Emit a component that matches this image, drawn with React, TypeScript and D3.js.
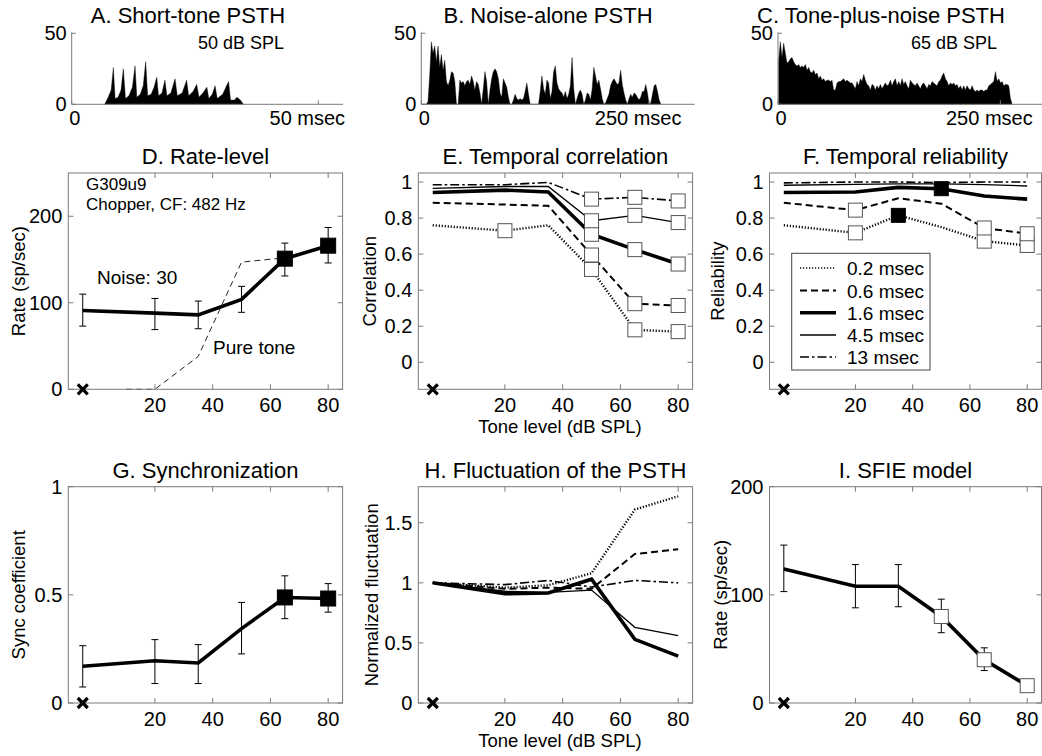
import React from 'react';
import * as d3 from 'd3';

const FONT = '"Liberation Sans", Arial, Helvetica, sans-serif';
const AXC = '#7a7a7a';

// ---------------- Data ----------------
// A. Short-tone PSTH (50 dB SPL): vertices (time in msec, count)
const psthATimes = [6.7, 7.4, 8.0, 8.45, 8.8, 9.4, 10.0, 10.47, 10.9, 11.6, 12.3, 12.84, 13.2, 13.9, 14.5, 15.0, 15.4, 16.1, 16.7, 17.24, 17.6, 18.3, 18.9, 19.3, 20.1, 20.95, 21.4, 22.4, 23.3, 23.7, 24.6, 25.35, 25.8, 26.6, 27.4, 27.8, 28.5, 29.07, 29.5, 30.6, 31.8, 32.2, 33.0, 33.5, 34.2, 34.8];
const psthAValues = [0, 5, 10, 26, 4, 5, 10, 25, 4, 6, 12, 27, 5, 7, 13, 30, 6, 7, 12, 19, 6, 8, 17, 6, 8, 18, 6, 8, 17, 6, 9, 14, 5, 8, 12, 4, 7, 13, 4, 7, 16, 3, 3, 5, 3, 0];

// B. Noise-alone PSTH: bins
const psthBStartMs = 0;
const psthBBinMs = 1.838;
const psthBValues = [
  0, 0, 0, 0, 2, 20, 44, 36, 41, 30,
  41, 26, 35, 24, 31, 16, 13, 17, 23, 22,
  16, 0, 0, 17, 15, 16, 13, 16, 17, 14,
  20, 16, 10, 16, 14, 8, 0, 11, 23, 16,
  0, 10, 18, 23, 25, 23, 18, 8, 5, 18,
  15, 12, 5, 0, 0, 3, 7, 4, 3, 4,
  3, 4, 9, 15, 7, 0, 0, 0, 0, 0,
  0, 9, 20, 11, 7, 17, 15, 4, 9, 23,
  27, 15, 11, 9, 8, 5, 9, 4, 7, 13,
  33, 11, 0, 4, 8, 10, 7, 0, 3, 8,
  7, 3, 11, 26, 20, 14, 17, 11, 4, 0,
  1, 4, 7, 13, 16, 18, 16, 14, 15, 24,
  14, 8, 3, 0, 4, 7, 5, 8, 7, 5,
  3, 5, 9, 9, 14, 8, 0, 1, 7, 13,
  14, 9, 3, 0,
];

// C. Tone-plus-noise PSTH (65 dB SPL): bins
const psthCStartMs = 0.75;
const psthCBinMs = 1.875;
const psthCValues = [
  30, 44, 33, 43, 36, 29, 30, 32, 33, 30,
  28, 27, 28, 26, 27, 26, 28, 24, 26, 23,
  22, 24, 21, 22, 18, 20, 17, 18, 16, 17,
  17, 16, 17, 10, 10, 15, 16, 16, 17, 18,
  16, 17, 16, 15, 15, 13, 11, 16, 13, 18,
  16, 21, 17, 14, 13, 10, 14, 13, 10, 13,
  11, 14, 11, 13, 15, 13, 14, 17, 13, 16,
  18, 13, 16, 13, 18, 14, 16, 13, 11, 17,
  15, 14, 13, 15, 13, 11, 14, 15, 13, 11,
  14, 13, 16, 15, 14, 13, 16, 17, 20, 22,
  18, 16, 13, 15, 14, 15, 13, 14, 11, 13,
  10, 13, 10, 13, 11, 10, 13, 10, 9, 10,
  9, 10, 10, 9, 10, 10, 13, 14, 15, 16,
  23, 16, 18, 15, 16, 13, 14, 14, 13, 4,
  0,
];

// Tone levels (dB SPL); -5 stands for the noise-alone condition
const toneLevels = [-5, 20, 35, 50, 65, 80];
const levelTicks = [20, 40, 60, 80];
const windowNames = ['0.2 msec', '0.6 msec', '1.6 msec', '4.5 msec', '13 msec'];

// D. Rate-level
const rateMean = [91, 88, 86, 104, 151, 166];
const rateHi = [110, 105, 102, 119, 169, 187];
const rateLo = [73, 69, 70, 89, 131, 146];
const rateMarks = ['', '', '', '', 'f', 'f'];
const pureToneLevels = [10, 20, 35, 50, 65];
const pureToneRate = [0, 0, 38, 147, 152];

// E. Temporal correlation
const corr02 = [0.76, 0.73, 0.76, 0.515, 0.18, 0.17];
const corr06 = [0.885, 0.875, 0.868, 0.595, 0.325, 0.315];
const corr16 = [0.942, 0.955, 0.945, 0.71, 0.625, 0.545];
const corr45 = [0.965, 0.975, 0.975, 0.785, 0.815, 0.775];
const corr13 = [0.985, 0.985, 0.998, 0.905, 0.915, 0.895];
const corrMarks02 = ['', 'o', '', 'o', 'o', 'o'];
const corrMarksOther = ['', '', '', 'o', 'o', 'o'];

// F. Temporal reliability
const rel02 = [0.76, 0.718, 0.815, 0.75, 0.672, 0.648];
const rel06 = [0.885, 0.844, 0.91, 0.88, 0.745, 0.713];
const rel16 = [0.942, 0.945, 0.97, 0.963, 0.922, 0.905];
const rel45 = [0.982, 0.987, 0.99, 0.99, 0.985, 0.978];
const rel13 = [0.995, 1.0, 1.0, 0.997, 1.0, 1.0];
const relMarks02 = ['', 'o', 'f', '', 'o', 'o'];
const relMarks06 = ['', 'o', '', '', 'o', 'o'];
const relMarks16 = ['', '', '', 'f', '', ''];
const relMarksNone = ['', '', '', '', '', ''];

// G. Synchronization
const syncMean = [0.17, 0.195, 0.185, 0.344, 0.488, 0.483];
const syncHi = [0.265, 0.293, 0.27, 0.465, 0.588, 0.552];
const syncLo = [0.074, 0.09, 0.09, 0.227, 0.39, 0.42];
const syncMarks = ['', '', '', '', 'f', 'f'];

// H. Fluctuation of the PSTH
const fluc02 = [1.0, 0.96, 0.98, 1.08, 1.61, 1.72];
const fluc06 = [1.0, 0.95, 0.96, 0.95, 1.24, 1.28];
const fluc16 = [1.0, 0.91, 0.915, 1.03, 0.53, 0.39];
const fluc45 = [1.0, 0.93, 0.92, 0.94, 0.63, 0.56];
const fluc13 = [1.0, 0.985, 1.02, 0.965, 1.02, 1.0];

// I. SFIE model
const sfieMean = [124, 108, 108, 80, 40, 16];
const sfieHi = [146, 128, 128, 96, 51, 20];
const sfieLo = [103, 88, 89, 65, 30, 12];
const sfieMarks = ['', '', '', 'o', 'o', 'o'];

// ---------------- Styles ----------------
const lineStyles = [
  { w: 2.4, dash: '1.2,1.8' },
  { w: 2, dash: '7,4' },
  { w: 3.6, dash: undefined as string | undefined },
  { w: 1.3, dash: undefined as string | undefined },
  { w: 1.6, dash: '9,3,2.5,3' },
];
const TITLE_FS = 22;
const TICK_FS = 20;
const LABEL_FS = 18.5;

type Sc = d3.ScaleLinear<number, number>;

function Psth(props: {
  left: number; width: number; xMax: number; pts: [number, number][];
  lastTick: number; lastLabel: string; title: string; titleX: number;
  note?: string; noteX?: number;
}) {
  const { left, width, xMax, pts, lastTick, lastLabel, title, titleX, note, noteX } = props;
  const x = d3.scaleLinear().domain([0, xMax]).range([left, left + width]);
  const y = d3.scaleLinear().domain([0, 50]).range([104.3, 33.3]);
  const area = d3.area<[number, number]>().x(d => x(d[0])).y0(y(0)).y1(d => y(d[1]));
  return (
    <g>
      <path d={area(pts) || ''} fill="#000" stroke="#000" strokeWidth={0.4} />
      <line x1={left} x2={left + width} y1={y(0)} y2={y(0)} stroke={AXC} />
      <line x1={left} x2={left} y1={y(0)} y2={y(50) - 1} stroke={AXC} />
      {[0, 50].map(t => (
        <g key={t}>
          <line x1={left} x2={left + 4} y1={y(t)} y2={y(t)} stroke={AXC} />
          <text x={left - 5} y={y(t) + 7} textAnchor="end" fontSize={TICK_FS}>{t}</text>
        </g>
      ))}
      {[0, lastTick].map(t => (
        <line key={t} x1={x(t)} x2={x(t)} y1={y(0)} y2={y(0) - 4} stroke={AXC} />
      ))}
      <text x={x(0) + 3} y={125} textAnchor="middle" fontSize={TICK_FS}>0</text>
      <text x={x(lastTick) - 11} y={125} textAnchor="middle" fontSize={TICK_FS}>{lastLabel}</text>
      <text x={titleX} y={22.5} textAnchor="middle" fontSize={TITLE_FS}>{title}</text>
      {note && <text x={noteX} y={49} textAnchor="middle" fontSize={18}>{note}</text>}
    </g>
  );
}

function LinePanel(props: {
  left: number; top: number; width: number; height: number;
  yDomain: [number, number]; yTicks: number[]; title: string;
  ylabel: string; ylabelX: number; xlabel?: string; xlabelX?: number;
  render: (x: Sc, y: Sc) => React.ReactNode;
}) {
  const { left, top, width, height, yDomain, yTicks, title, ylabel, ylabelX, xlabel, xlabelX, render } = props;
  const x = d3.scaleLinear().domain([-10, 85]).range([left, left + width]);
  const y = d3.scaleLinear().domain(yDomain).range([top + height, top]);
  const bottom = top + height;
  const right = left + width;
  const cy = top + height / 2;
  const xm = x(toneLevels[0]);
  const ym = y(yDomain[0]);
  return (
    <g>
      {render(x, y)}
      <rect x={left} y={top} width={width} height={height} fill="none" stroke={AXC} strokeWidth={1} />
      {levelTicks.map(t => (
        <g key={'x' + t}>
          <line x1={x(t)} x2={x(t)} y1={bottom} y2={bottom - 5} stroke={AXC} />
          <line x1={x(t)} x2={x(t)} y1={top} y2={top + 5} stroke={AXC} />
          <text x={x(t)} y={bottom + 23} textAnchor="middle" fontSize={TICK_FS}>{t}</text>
        </g>
      ))}
      {yTicks.map(t => (
        <g key={'y' + t}>
          <line x1={left} x2={left + 5} y1={y(t)} y2={y(t)} stroke={AXC} />
          <line x1={right} x2={right - 5} y1={y(t)} y2={y(t)} stroke={AXC} />
          <text x={left - 6} y={y(t) + 7} textAnchor="end" fontSize={TICK_FS}>{String(t)}</text>
        </g>
      ))}
      <text x={left + width / 2} y={top - 9} textAnchor="middle" fontSize={TITLE_FS}>{title}</text>
      <text transform={`translate(${ylabelX},${cy}) rotate(-90)`} textAnchor="middle" dy="0.35em" fontSize={LABEL_FS}>{ylabel}</text>
      {xlabel && <text x={xlabelX} y={bottom + 44} textAnchor="middle" fontSize={LABEL_FS}>{xlabel}</text>}
      <g stroke="#000" strokeWidth={3.2}>
        <line x1={xm - 5} x2={xm + 5} y1={ym - 5} y2={ym + 5} />
        <line x1={xm - 5} x2={xm + 5} y1={ym + 5} y2={ym - 5} />
      </g>
    </g>
  );
}

function seriesPath(x: Sc, y: Sc, xs: number[], vals: number[]) {
  const line = d3.line<number>().x((_, i) => x(xs[i])).y(d => y(d));
  return line(vals) || '';
}

function Markers({ x, y, vals, marks, size = 14 }: { x: Sc; y: Sc; vals: number[]; marks: string[]; size?: number }) {
  return (
    <g>
      {vals.map((v, i) => marks[i] ? (
        <rect key={i} x={x(toneLevels[i]) - size / 2} y={y(v) - size / 2} width={size} height={size}
          fill={marks[i] === 'f' ? '#000' : '#fff'} stroke={marks[i] === 'f' ? '#000' : '#555'} strokeWidth={1} />
      ) : null)}
    </g>
  );
}

function ErrorBars({ x, y, hi, lo }: { x: Sc; y: Sc; hi: number[]; lo: number[] }) {
  return (
    <g stroke="#000" strokeWidth={1}>
      {hi.map((h, i) => {
        const cx = x(toneLevels[i]);
        return (
          <g key={i}>
            <line x1={cx} x2={cx} y1={y(lo[i])} y2={y(h)} />
            <line x1={cx - 3.5} x2={cx + 3.5} y1={y(h)} y2={y(h)} />
            <line x1={cx - 3.5} x2={cx + 3.5} y1={y(lo[i])} y2={y(lo[i])} />
          </g>
        );
      })}
    </g>
  );
}

function MultiLines({ x, y, series, marks }: { x: Sc; y: Sc; series: number[][]; marks?: string[][] }) {
  return (
    <g>
      {series.map((s, k) => (
        <path key={k} d={seriesPath(x, y, toneLevels, s)} fill="none" stroke="#000"
          strokeWidth={lineStyles[k].w} strokeDasharray={lineStyles[k].dash} />
      ))}
      {marks && series.map((s, k) => <Markers key={'m' + k} x={x} y={y} vals={s} marks={marks[k]} />)}
    </g>
  );
}

export default function App() {
  const pw = 274.3, ph = 216.3;
  const row2 = 173, row3 = 486.7;
  const colL = [68.3, 418.3, 769.5];
  const ptsA: [number, number][] = psthATimes.map((t, i) => [t, psthAValues[i]]);
  const ptsB: [number, number][] = psthBValues.map((v, i) => [psthBStartMs + i * psthBBinMs, v]);
  const ptsC: [number, number][] = psthCValues.map((v, i) => [psthCStartMs + i * psthCBinMs, v]);
  const legendY = [268, 290.5, 312.8, 335, 357];

  return (
    <svg width={1042} height={756} fontFamily={FONT}
      style={{ position: 'absolute', left: 0, top: 0, background: '#fff' }}>
      <rect width={1042} height={756} fill="#fff" />

      <Psth left={71.7} width={271.3} xMax={55} pts={ptsA} lastTick={50} lastLabel="50 msec"
        title="A. Short-tone PSTH" titleX={188} note="50 dB SPL" noteX={241} />
      <Psth left={421.3} width={273.4} xMax={300} pts={ptsB} lastTick={250} lastLabel="250 msec"
        title="B. Noise-alone PSTH" titleX={548} />
      <Psth left={778} width={266.8} xMax={300} pts={ptsC} lastTick={250} lastLabel="250 msec"
        title="C. Tone-plus-noise PSTH" titleX={881} note="65 dB SPL" noteX={954} />

      {/* D */}
      <LinePanel left={colL[0]} top={row2} width={pw} height={ph} yDomain={[0, 250]} yTicks={[0, 100, 200]}
        title="D. Rate-level" ylabel="Rate (sp/sec)" ylabelX={19}
        render={(x, y) => (
          <g>
            <path d={seriesPath(x, y, pureToneLevels, pureToneRate)} fill="none" stroke="#222" strokeWidth={1} strokeDasharray="6,4" />
            <ErrorBars x={x} y={y} hi={rateHi} lo={rateLo} />
            <path d={seriesPath(x, y, toneLevels, rateMean)} fill="none" stroke="#000" strokeWidth={3.6} />
            <Markers x={x} y={y} vals={rateMean} marks={rateMarks} size={15} />
            <text x={86} y={190} fontSize={17}>G309u9</text>
            <text x={86} y={210} fontSize={17}>Chopper, CF: 482 Hz</text>
            <text x={97} y={284} fontSize={19}>Noise: 30</text>
            <text x={213} y={354} fontSize={19}>Pure tone</text>
          </g>
        )} />

      {/* E */}
      <LinePanel left={colL[1]} top={row2} width={pw} height={ph} yDomain={[-0.15, 1.05]}
        yTicks={[0, 0.2, 0.4, 0.6, 0.8, 1]} title="E. Temporal correlation" ylabel="Correlation" ylabelX={370}
        xlabel="Tone level (dB SPL)" xlabelX={560}
        render={(x, y) => (
          <MultiLines x={x} y={y} series={[corr02, corr06, corr16, corr45, corr13]}
            marks={[corrMarks02, corrMarksOther, corrMarksOther, corrMarksOther, corrMarksOther]} />
        )} />

      {/* F */}
      <LinePanel left={colL[2]} top={row2} width={272} height={ph} yDomain={[-0.15, 1.05]}
        yTicks={[0, 0.2, 0.4, 0.6, 0.8, 1]} title="F. Temporal reliability" ylabel="Reliability" ylabelX={718}
        render={(x, y) => (
          <g>
            <MultiLines x={x} y={y} series={[rel02, rel06, rel16, rel45, rel13]}
              marks={[relMarks02, relMarks06, relMarks16, relMarksNone, relMarksNone]} />
            <rect x={791.7} y={253.3} width={138.3} height={116.7} fill="#fff" stroke="#444" strokeWidth={1} />
            {windowNames.map((n, k) => (
              <g key={n}>
                <line x1={800} x2={836} y1={legendY[k]} y2={legendY[k]} stroke="#000"
                  strokeWidth={k === 0 ? 1.6 : lineStyles[k].w} strokeDasharray={lineStyles[k].dash} />
                <text x={847} y={legendY[k] + 7} fontSize={19}>{n}</text>
              </g>
            ))}
          </g>
        )} />

      {/* G */}
      <LinePanel left={colL[0]} top={row3} width={pw} height={ph} yDomain={[0, 1]} yTicks={[0, 0.5, 1]}
        title="G. Synchronization" ylabel="Sync coefficient" ylabelX={18.5}
        render={(x, y) => (
          <g>
            <ErrorBars x={x} y={y} hi={syncHi} lo={syncLo} />
            <path d={seriesPath(x, y, toneLevels, syncMean)} fill="none" stroke="#000" strokeWidth={3.6} />
            <Markers x={x} y={y} vals={syncMean} marks={syncMarks} size={15} />
          </g>
        )} />

      {/* H */}
      <LinePanel left={colL[1]} top={row3} width={pw} height={ph} yDomain={[0, 1.8]} yTicks={[0, 0.5, 1, 1.5]}
        title="H. Fluctuation of the PSTH" ylabel="Normalized fluctuation" ylabelX={372}
        xlabel="Tone level (dB SPL)" xlabelX={560}
        render={(x, y) => (
          <MultiLines x={x} y={y} series={[fluc02, fluc06, fluc16, fluc45, fluc13]} />
        )} />

      {/* I */}
      <LinePanel left={colL[2]} top={row3} width={272} height={ph} yDomain={[0, 200]} yTicks={[0, 100, 200]}
        title="I. SFIE model" ylabel="Rate (sp/sec)" ylabelX={721}
        render={(x, y) => (
          <g>
            <ErrorBars x={x} y={y} hi={sfieHi} lo={sfieLo} />
            <path d={seriesPath(x, y, toneLevels, sfieMean)} fill="none" stroke="#000" strokeWidth={3.6} />
            <Markers x={x} y={y} vals={sfieMean} marks={sfieMarks} size={14} />
          </g>
        )} />
    </svg>
  );
}
